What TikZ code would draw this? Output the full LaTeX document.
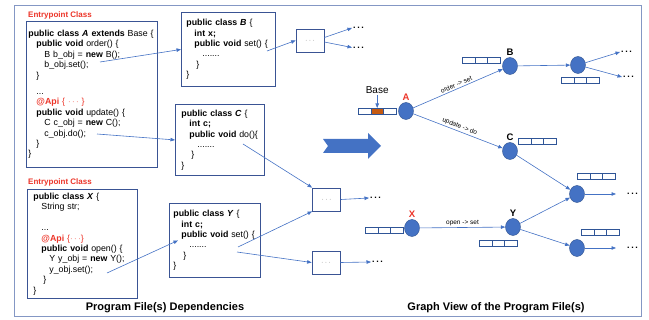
\documentclass[tikz,border=0pt]{standalone}
\usepackage{fontspec}
\setmainfont{Liberation Sans}
\usetikzlibrary{positioning,shapes.geometric,arrows.meta}

\definecolor{boxblue}{RGB}{58,84,148}
\definecolor{framegray}{RGB}{132,151,196}
\definecolor{flowblue}{RGB}{68,114,196}
\definecolor{vertexedge}{RGB}{47,82,143}
\definecolor{slotblue}{RGB}{47,85,151}
\definecolor{codered}{RGB}{236,52,40}
\definecolor{basebrown}{RGB}{197,90,17}

\newcommand{\codeind}{\hspace*{8pt}}
\newcommand{\moredots}{\textbf{.\hspace{1.6pt}.\hspace{1.6pt}.}}
% three empty slots in a row, top left corner at (#2,#3)
\newcommand{\slotrow}[3]{\foreach \k in {0,1,2} {\node[slot] (#1\k) at (#2+12.6*\k,#3) {};}}

\tikzset{
  code/.style={rectangle, draw=boxblue, line width=0.9pt, anchor=north west, align=left,
    inner ysep=0pt, font=\fontsize{8.8}{10.4}\selectfont},
  tag/.style={anchor=west, inner sep=0pt, text=codered, font=\fontsize{8}{9}\selectfont\bfseries},
  dotbox/.style={rectangle, draw=boxblue, line width=0.8pt, minimum width=28pt, minimum height=23pt,
    inner sep=0pt, text=black!60, font=\fontsize{7}{7}\selectfont},
  more/.style={anchor=west, inner sep=1pt, font=\fontsize{9}{9}\selectfont},
  flow/.style={draw=flowblue, line width=0.6pt, -{Triangle[length=4.5pt,width=3.5pt]}},
  vertex/.style={ellipse, fill=flowblue, draw=vertexedge, line width=0.4pt, minimum width=15pt,
    minimum height=17pt, inner sep=0pt},
  vlabel/.style={font=\fontsize{9.5}{10}\selectfont\bfseries, inner sep=1.5pt},
  slot/.style={rectangle, draw=slotblue, fill=white, line width=0.6pt, minimum width=12.6pt,
    minimum height=6.5pt, inner sep=0pt, anchor=north west},
  call/.style={font=\fontsize{6.5}{7}\selectfont, inner sep=1.5pt},
  caption/.style={font=\fontsize{11}{12}\selectfont\bfseries}
}

\begin{document}
\begin{tikzpicture}[x=1pt, y=-1pt]
  \useasboundingbox (0,0) rectangle (649,320);
  \draw[framegray, line width=0.9pt] (14,5) rectangle (641,316);

  % left half: the program files
  \node[tag] (tagA) at (28,15) {Entrypoint Class};
  \node[code, text width=127pt, minimum height=146pt, inner xsep=2pt] (clsA) at (26,21)
  {
    \textbf{public class \textit{A} extends} Base \{\\
    \codeind\textbf{public void} order() \{\\
    \codeind\codeind B b\_obj = \textbf{new} B();\\
    \codeind\codeind b\_obj.set();\\
    \codeind\}\\[6pt]
    \codeind...\\
    \codeind{\color{codered}\textbf{@Api} \{ $\cdots$ \}}\\
    \codeind\textbf{public void} update() \{\\
    \codeind\codeind C c\_obj = \textbf{new} C();\\
    \codeind\codeind c\_obj.do();\\
    \codeind\}\\
    \}
  };
  \node[code, text width=84pt, minimum height=74pt, inner xsep=5pt] (clsB) at (181,12)
  {
    \textbf{public class \textit{B}} \{\\
    \codeind\textbf{int x;}\\
    \codeind\textbf{public void} set() \{\\
    \codeind\codeind .......\\
    \codeind\hspace*{2pt}\}\\
    \}
  };
  \node[code, text width=77pt, minimum height=71pt, inner xsep=6pt] (clsC) at (175,104)
  {
    \textbf{public class \textit{C}} \{\\
    \codeind\textbf{int c;}\\
    \codeind\textbf{public void} do()\{\\
    \codeind\codeind .......\\
    \codeind\hspace*{2pt}\}\\
    \}
  };
  \node[tag] (tagX) at (28,182) {Entrypoint Class};
  \node[code, text width=98pt, minimum height=109pt, inner xsep=6pt] (clsX) at (27,189)
  {
    \textbf{public class \textit{X}} \{\\
    \codeind String str;\\[10.4pt]
    \codeind...\\
    \codeind{\color{codered}\textbf{@Api} \{$\cdots$\}}\\
    \codeind\textbf{public void} open() \{\\
    \codeind\codeind Y y\_obj = \textbf{new} Y();\\
    \codeind\codeind y\_obj.set();\\
    \codeind\hspace*{2pt}\}\\
    \}
  };
  \node[code, text width=83pt, minimum height=74pt, inner xsep=4pt] (clsY) at (169,203)
  {
    \textbf{public class \textit{Y}} \{\\
    \codeind\textbf{int c;}\\
    \codeind\textbf{public void} set() \{\\
    \codeind\codeind .......\\
    \codeind\hspace*{2pt}\}\\
    \}
  };

  \node[dotbox] (mid1) at (310,40.5) {$\cdots$};
  \node[dotbox] (mid2) at (326.5,199.5) {$\cdots$};
  \node[dotbox] (mid3) at (326,262.5) {$\cdots$};
  \node[more] (more1) at (352,28) {\moredots};
  \node[more] (more2) at (352,47.5) {\moredots};
  \node[more] (more3) at (369,198) {\moredots};
  \node[more] (more4) at (371,262) {\moredots};

  \coordinate (bcall) at (100,62);
  \coordinate (ccall) at (97,134);
  \coordinate (xcall) at (107,273);
  \coordinate (bset) at (267,51);
  \coordinate (cdo) at (243,144);
  \coordinate (yset1) at (238,247);
  \coordinate (yset2) at (237,252);

  \draw[flow] (bcall) -- (clsB.west);
  \draw[flow] (ccall) -- (clsC.west);
  \draw[flow] (xcall) -- ([xshift=9pt]clsY.west);
  \draw[flow] (bset) -- (mid1.west);
  \draw[flow] (cdo) -- (mid2.north west);
  \draw[flow] (yset1) -- (mid2.south west);
  \draw[flow] (yset2) -- (mid3.west);
  \draw[flow] ([yshift=3pt]mid1.east) -- (more1.west);
  \draw[flow] ([yshift=-1.5pt]mid1.east) -- (more2.west);
  \draw[flow] (mid2.east) -- (more3.west);
  \draw[flow] (mid3.east) -- (more4.west);

  % big arrow between the two halves
  \fill[flowblue] (323,139) -- (368,139) -- (368,133) -- (381,146) -- (368,159) -- (368,153)
    -- (323,153) -- (328,146) -- cycle;

  % right half: the graph
  \node[vertex, label={[vlabel, text=codered]above:A}] (nA) at (406,111) {};
  \node[vertex, label={[vlabel]above:B}] (nB) at (510,66) {};
  \node[vertex, label={[vlabel]above:C}] (nC) at (510,151) {};
  \node[vertex] (nB2) at (578,65) {};
  \node[vertex, label={[vlabel, text=codered]above:X}] (nX) at (412,228) {};
  \node[vertex, label={[vlabel]above:Y}] (nY) at (513,227) {};
  \node[vertex] (nD) at (577,194) {};
  \node[vertex] (nE) at (577,248) {};

  \foreach \k/\c in {0/white,1/basebrown,2/white}
    \node[slot, fill=\c] (base\k) at (358+12.6*\k,108) {};
  \node[font=\fontsize{10}{11}\selectfont, inner sep=1pt, above=13pt of base1] (baselbl) {Base};
  \draw[flow] (baselbl.south) -- (base1.north);
  \slotrow{rowB}{462}{57}
  \slotrow{rowBt}{561}{77}
  \slotrow{rowC}{518}{138}
  \slotrow{rowX}{365}{227}
  \slotrow{rowY}{479}{240}
  \slotrow{rowD}{577}{173}
  \slotrow{rowE}{581}{229}

  \node[more] (moreB1) at (620,52) {\moredots};
  \node[more] (moreB2) at (622,77) {\moredots};
  \node[more] (moreD) at (626,194) {\moredots};
  \node[more] (moreE) at (626,248) {\moredots};

  \draw[flow] (nA) -- node[call, sloped, above] (lblorder) {order -> set} (nB);
  \draw[flow] (nA) -- node[call, sloped, above] (lblupdate) {update -> do} (nC);
  \draw[flow] (nX) -- node[call, above] (lblopen) {open -> set} (nY);
  \draw[flow] (nB) -- (nB2);
  \draw[flow] (nB2) -- (moreB1.west);
  \draw[flow] (nB2) -- (moreB2.west);
  \draw[flow] (nC) -- (nD);
  \draw[flow] (nY) -- (nD);
  \draw[flow] (nY) -- (nE);
  \draw[flow, shorten >=10pt] (nD) -- (moreD.west);
  \draw[flow, shorten >=10pt] (nE) -- (moreE.west);

  \node[caption] (capleft) at (165,308) {Program File(s) Dependencies};
  \node[caption] (capright) at (496,308) {Graph View of the Program File(s)};
\end{tikzpicture}
\end{document}
